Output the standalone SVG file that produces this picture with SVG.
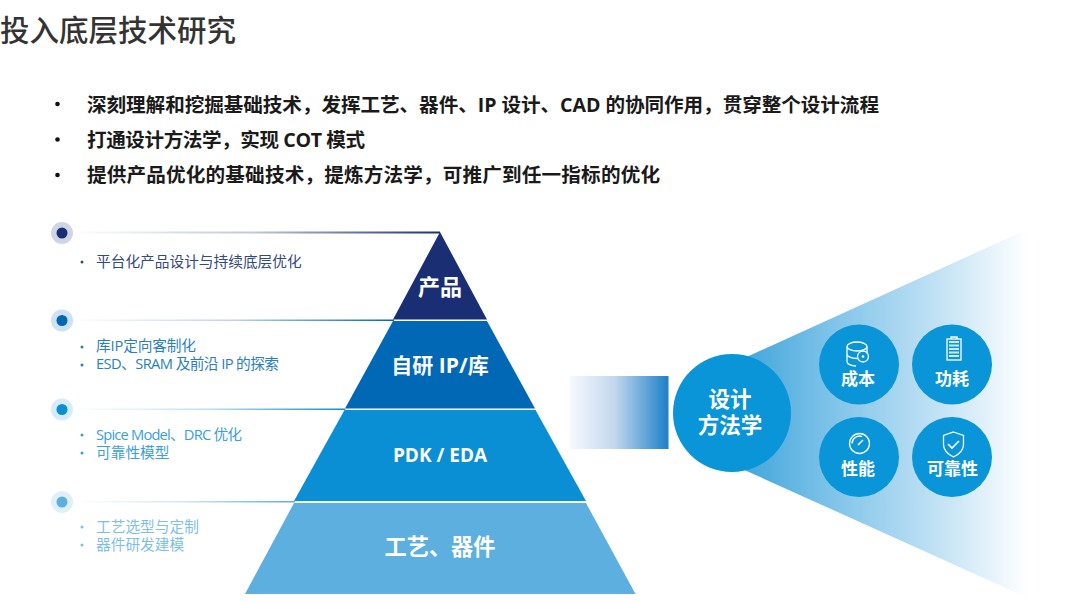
<svg xmlns="http://www.w3.org/2000/svg" width="1080" height="603" viewBox="0 0 1080 603">
<style>
text{font-family:"Noto Sans","Noto Sans CJK SC",sans-serif}
.cjk{font-family:"Open Sans","Noto Sans CJK SC",sans-serif}
.h{font-size:19.600px;font-weight:700;fill:#1a1a1a}
.l{font-size:14.700px}
.w{fill:#fff;font-weight:700;text-anchor:middle}
.ic{fill:none;stroke:#fff;stroke-width:1.3}
</style>
<defs>
<linearGradient id="cone" gradientUnits="userSpaceOnUse" x1="740" y1="0" x2="1028" y2="0"><stop offset="0" stop-color="#3fa5dc"/><stop offset=".35" stop-color="#85c6ea"/><stop offset=".7" stop-color="#c4e3f5"/><stop offset="1" stop-color="#fff"/></linearGradient>
<linearGradient id="bar" x1="0" y1="0" x2="1" y2="0"><stop offset="0" stop-color="#f6f9fd"/><stop offset=".45" stop-color="#c3d8ee"/><stop offset="1" stop-color="#1c80c8"/></linearGradient>
<linearGradient id="l1" x1="0" y1="0" x2="1" y2="0"><stop offset="0" stop-color="#fff"/><stop offset=".5" stop-color="#c0c6d8"/><stop offset="1" stop-color="#1a2f73"/></linearGradient>
<linearGradient id="l2" x1="0" y1="0" x2="1" y2="0"><stop offset="0" stop-color="#fff"/><stop offset=".5" stop-color="#bcd5ea"/><stop offset="1" stop-color="#0068b5"/></linearGradient>
<linearGradient id="l3" x1="0" y1="0" x2="1" y2="0"><stop offset="0" stop-color="#fff"/><stop offset=".5" stop-color="#bcdff2"/><stop offset="1" stop-color="#0a8fd5"/></linearGradient>
<linearGradient id="l4" x1="0" y1="0" x2="1" y2="0"><stop offset="0" stop-color="#fff"/><stop offset=".5" stop-color="#cfe6f5"/><stop offset="1" stop-color="#5cafdf"/></linearGradient>
</defs>
<text x="0" y="41" font-size="29.500" font-weight="500" fill="#333" class="cjk">投入底层技术研究</text>
<g id="bullets">
<circle cx="57.500" cy="104" r="2.300" fill="#111"/><circle cx="57.500" cy="139.500" r="2.300" fill="#111"/><circle cx="57.500" cy="175" r="2.300" fill="#111"/>
<text class="h cjk" x="87" y="112" textLength="792">深刻理解和挖掘基础技术，发挥工艺、器件、IP 设计、CAD 的协同作用，贯穿整个设计流程</text>
<text class="h cjk" x="87" y="147" textLength="278">打通设计方法学，实现 COT 模式</text>
<text class="h cjk" x="87" y="182" textLength="573">提供产品优化的基础技术，提炼方法学，可推广到任一指标的优化</text>
</g>
<g id="connectors">
<rect x="72" y="231.500" width="368" height="2" fill="url(#l1)"/>
<rect x="72" y="319.500" width="322" height="1.500" fill="url(#l2)"/>
<rect x="72" y="408.500" width="273" height="1.500" fill="url(#l3)"/>
<rect x="72" y="501" width="223" height="1.500" fill="url(#l4)"/>
</g>
<g id="dot1"><circle cx="62" cy="233" r="11" fill="#d0d5e5"/><circle cx="62" cy="233" r="5.500" fill="#1a2f73"/></g>
<g id="dot2"><circle cx="62" cy="320.500" r="11" fill="#cfe2f3"/><circle cx="62" cy="320.500" r="5.500" fill="#0068b5"/></g>
<g id="dot3"><circle cx="62" cy="409.500" r="11" fill="#d6edf9"/><circle cx="62" cy="409.500" r="5.500" fill="#0a8fd5"/></g>
<g id="dot4"><circle cx="62" cy="502" r="11" fill="#e0f0fa"/><circle cx="62" cy="502" r="5.500" fill="#5cafdf"/></g>
<g id="desc1" fill="#34497f"><circle cx="82" cy="262" r="1.500"/><text class="l cjk" x="96" y="267">平台化产品设计与持续底层优化</text></g>
<g id="desc2" fill="#2a7fbd"><circle cx="82" cy="347" r="1.500"/><circle cx="82" cy="365" r="1.500"/><text class="l cjk" x="96" y="351" textLength="100">库IP定向客制化</text><text class="l cjk" x="96" y="369" textLength="183">ESD、SRAM 及前沿 IP 的探索</text></g>
<g id="desc3" fill="#3aa0d9"><circle cx="82" cy="435" r="1.500"/><circle cx="82" cy="453" r="1.500"/><text class="l cjk" x="96" y="440" textLength="146">Spice Model、DRC 优化</text><text class="l cjk" x="96" y="458">可靠性模型</text></g>
<g id="desc4" fill="#7dbfe6"><circle cx="82" cy="527" r="1.500"/><circle cx="82" cy="545" r="1.500"/><text class="l cjk" x="96" y="532">工艺选型与定制</text><text class="l cjk" x="96" y="550">器件研发建模</text></g>
<g id="tier-product"><polygon points="440,232 487,319.500 393,319.500" fill="#1a2f73"/><text class="w cjk" x="440" y="295" font-size="22">产品</text></g>
<g id="tier-ip"><polygon points="393,321 487,321 535,408.500 345,408.500" fill="#0068b5"/><text class="w cjk" x="440" y="373" font-size="21">自研 IP/库</text></g>
<g id="tier-pdk"><polygon points="344.500,410 535.500,410 586,501 294,501" fill="#0a8fd5"/><text class="w cjk" x="440" y="462" font-size="19">PDK / EDA</text></g>
<g id="tier-process"><polygon points="294,503 586,503 635.500,594 245,594" fill="#5cafdf"/><text class="w cjk" x="440" y="555" font-size="22.200">工艺、器件</text></g>
<rect id="bar-grad" x="570" y="376" width="98.500" height="73" fill="url(#bar)"/>
<polygon id="cone-shape" points="740,360 1028,229 1028,598 740,468" fill="url(#cone)"/>
<g id="method"><circle cx="732" cy="413" r="59" fill="#0a95d8"/><text class="w cjk" font-size="21.500"><tspan x="730" y="407">设计</tspan><tspan x="730" y="433">方法学</tspan></text></g>
<g id="cost"><circle cx="859" cy="364.500" r="40" fill="#0a95d8"/>
<g class="ic"><ellipse cx="857" cy="346.500" rx="10" ry="4.500"/><path d="M847 346.500v15c0 2.500 4 4.500 9 4.500M867 346.500v7M847 354c0 2.500 4 4.500 10 4.500"/><circle cx="863" cy="356.500" r="5.500"/></g><circle cx="863" cy="356.500" r="1.300" fill="#fff"/>
<text class="w cjk" x="858" y="385" font-size="17">成本</text></g>
<g id="power"><circle cx="952" cy="364.500" r="40" fill="#0a95d8"/>
<g class="ic"><rect x="947" y="339" width="14" height="21"/><path d="M951 339v-2h6v2"/></g><path d="M949 342h10M949 345.500h10M949 349h10M949 352.500h10M949 356h10" stroke="#fff" stroke-width="2" opacity=".8"/>
<text class="w cjk" x="952" y="385" font-size="17">功耗</text></g>
<g id="perf"><circle cx="859" cy="457" r="40" fill="#0a95d8"/>
<g class="ic"><circle cx="859.500" cy="443.500" r="10"/><path d="M852 443.500a7.500 7.500 0 0 1 10-7"/></g><path d="M858 445l5-5" stroke="#fff" stroke-width="1.500"/>
<text class="w cjk" x="858" y="475" font-size="17">性能</text></g>
<g id="reliab"><circle cx="952" cy="457" r="40" fill="#0a95d8"/>
<g class="ic"><path d="M953.500 432l10 3.500v9c0 6-5 10-10 12.500c-5-2.500-10-6.500-10-12.500v-9z"/><path d="M948 444l4 4l7-7" stroke-width="1.600"/></g>
<text class="w cjk" x="952.500" y="475" font-size="17">可靠性</text></g>
</svg>
